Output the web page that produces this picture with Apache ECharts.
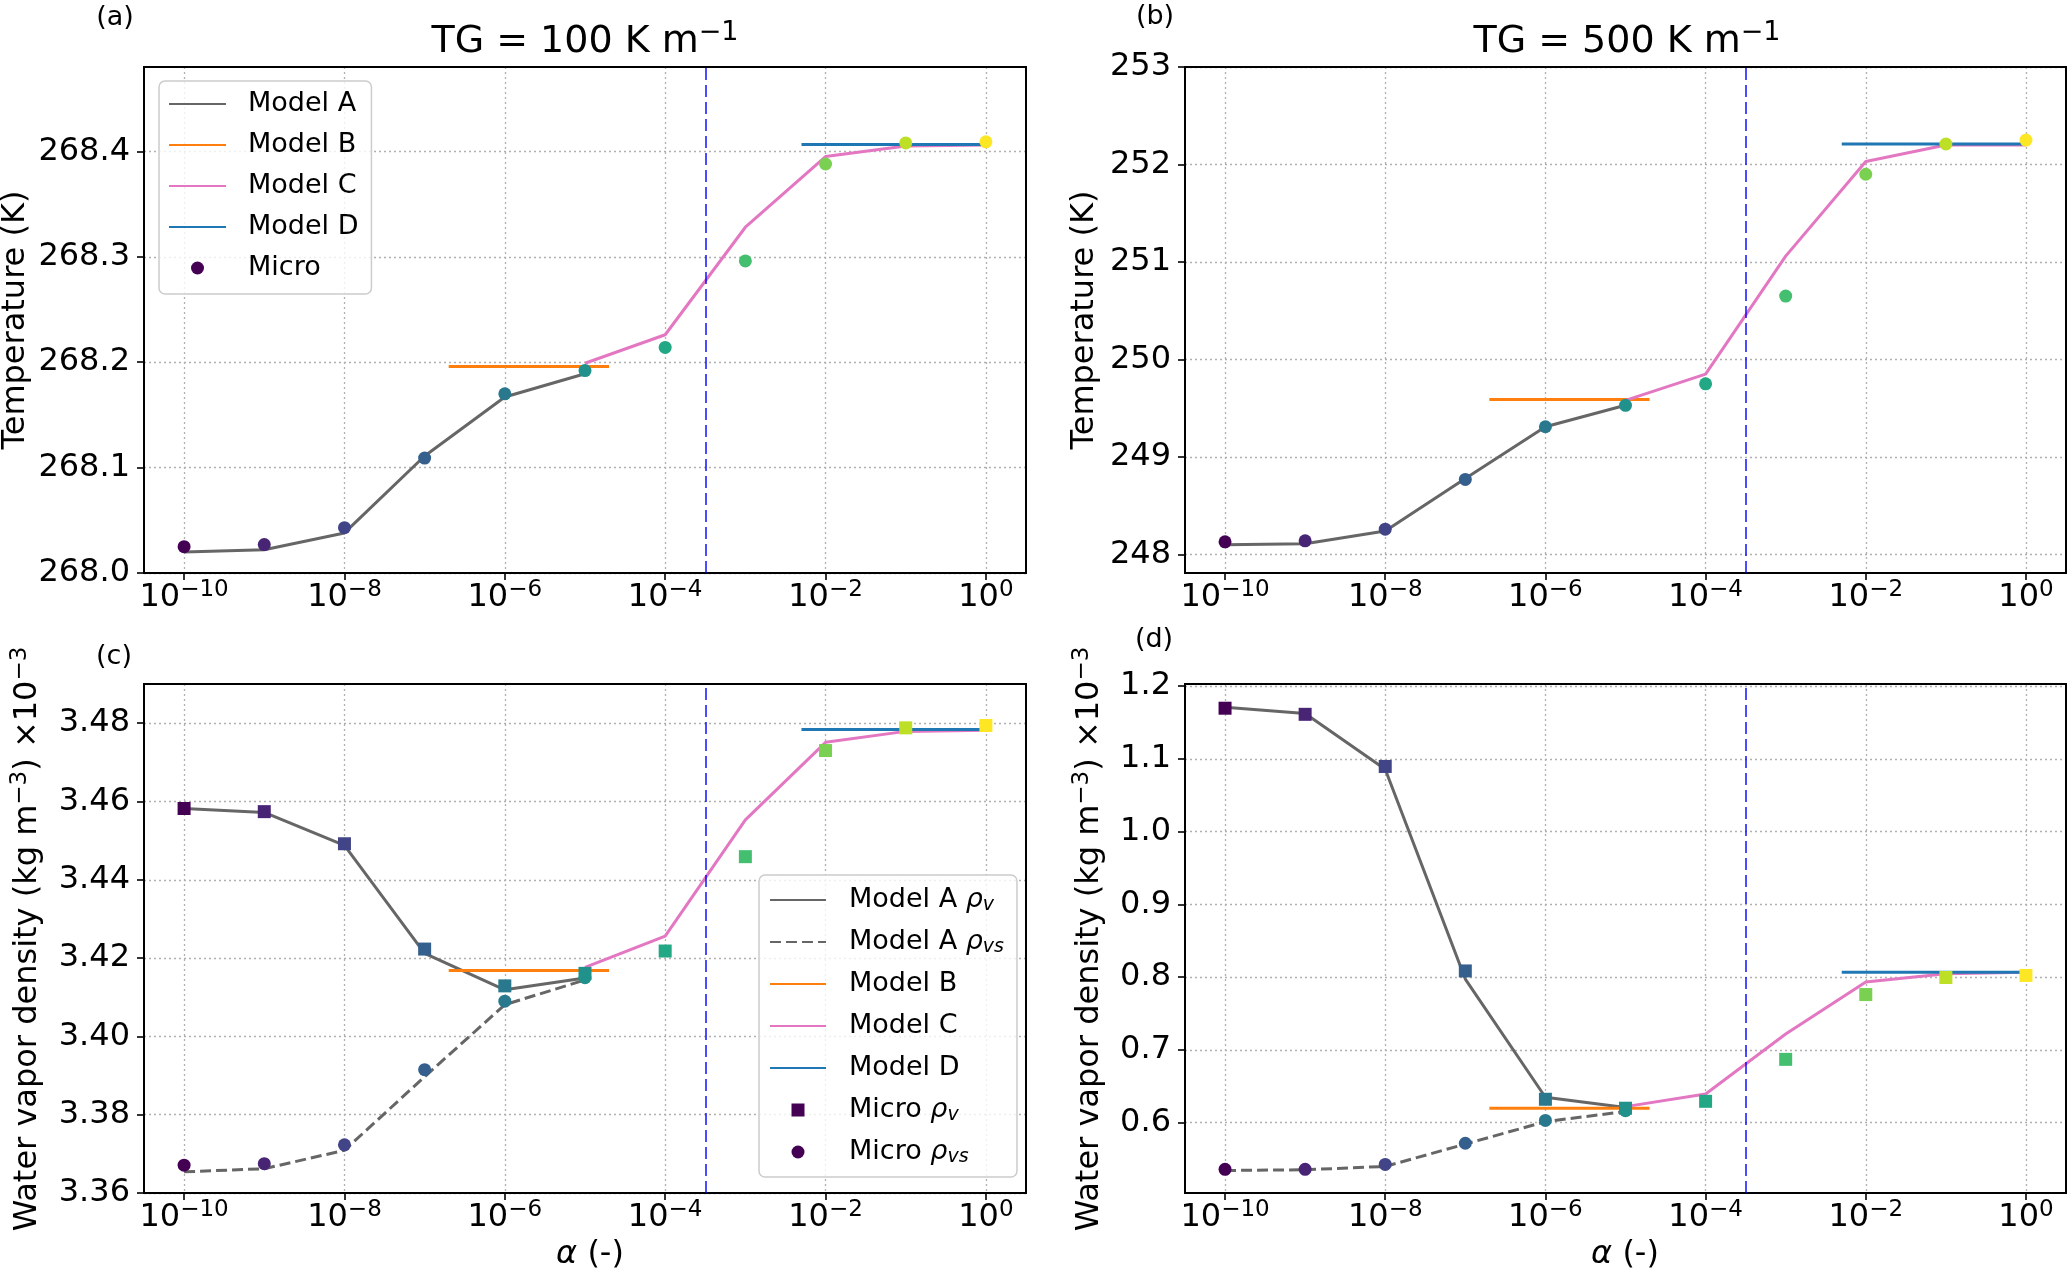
<!DOCTYPE html>
<html><head><meta charset="utf-8">
<script src="https://cdn.jsdelivr.net/npm/echarts@6/dist/echarts.min.js"></script>
<style>html,body{margin:0;padding:0;background:#fff}#c{width:2067px;height:1270px}</style>
</head><body><div id="c"></div>
<script>
// ---- data (x values are exponents of alpha: alpha = 10^x) ----
const alphaExp = [-10, -9, -8, -7, -6, -5, -4, -3, -2, -1, 0];
const expA = [-10, -9, -8, -7, -6, -5];
const expC = [-5, -4, -3, -2, -1, 0];
const rangeB = [-6.7, -4.7];
const rangeD = [-2.3, 0];
const alphaCrit = -3.5;
const xTickExp = [-10, -8, -6, -4, -2, 0];

// (a) TG = 100 K/m, temperature
const aMicro = [268.025, 268.027, 268.043, 268.109, 268.170, 268.192, 268.214, 268.296, 268.388, 268.408, 268.409];
const aModelA = [268.020, 268.022, 268.038, 268.111, 268.167, 268.189];
const aModelB = 268.196;
const aModelC = [268.199, 268.226, 268.328, 268.395, 268.405, 268.406];
const aModelD = 268.4065;
const aTicks = [268.0, 268.1, 268.2, 268.3, 268.4];

// (b) TG = 500 K/m, temperature
const bMicro = [248.13, 248.14, 248.26, 248.77, 249.31, 249.53, 249.75, 250.65, 251.90, 252.21, 252.25];
const bModelA = [248.10, 248.11, 248.24, 248.78, 249.31, 249.53];
const bModelB = 249.59;
const bModelC = [249.58, 249.85, 251.06, 252.03, 252.20, 252.20];
const bModelD = 252.21;
const bTicks = [248, 249, 250, 251, 252, 253];

// (c) TG = 100 K/m, water vapour density x1e-3
const cMicroV = [3.4582, 3.4574, 3.4492, 3.4223, 3.4129, 3.4161, 3.4218, 3.4459, 3.4730, 3.4788, 3.4794];
const cMicroVs = [3.3671, 3.3675, 3.3723, 3.3915, 3.4090, 3.4150];
const cModelAv = [3.4582, 3.4572, 3.4488, 3.4212, 3.4119, 3.4149];
const cModelAvs = [3.3654, 3.3662, 3.3709, 3.3897, 3.4081, 3.4144];
const cModelB = 3.4168;
const cModelC = [3.4176, 3.4256, 3.4553, 3.4751, 3.4779, 3.4782];
const cModelD = 3.4784;
const cTicks = [3.36, 3.38, 3.40, 3.42, 3.44, 3.46, 3.48];

// (d) TG = 500 K/m, water vapour density x1e-3
const dMicroV = [1.1697, 1.1613, 1.0896, 0.8084, 0.6319, 0.6196, 0.6291, 0.6868, 0.7759, 0.7994, 0.8022];
const dMicroVs = [0.5356, 0.5356, 0.5423, 0.5714, 0.6028, 0.6162];
const dModelAv = [1.1709, 1.1625, 1.0857, 0.7972, 0.6347, 0.6207];
const dModelAvs = [0.5339, 0.5350, 0.5395, 0.5703, 0.6011, 0.6151];
const dModelB = 0.6196;
const dModelC = [0.6218, 0.6392, 0.7216, 0.7933, 0.8045, 0.8067];
const dModelD = 0.8067;
const dTicks = [0.6, 0.7, 0.8, 0.9, 1.0, 1.1, 1.2];

// ---- styling ----
const FONT = 'DejaVu Sans';
const VIRIDIS = ['#440154','#482475','#414487','#355f8d','#2a788e','#21918c','#22a884','#44bf70','#7ad151','#bddf26','#fde725'];
const C_A = '#666666', C_B = '#ff7f0e', C_C = '#e377c2', C_D = '#1f77b4';
const GRIDLINE = {show: true, lineStyle: {color: '#b0b0b0', width: 1.3, type: [2, 3]}};
const TICK = {length: 7, lineStyle: {color: '#000', width: 1.6}};
const SQUARE = 'path://M0,0h10v10h-10z';

const grids = [
  {left: 144, top: 67, width: 882, height: 506},
  {left: 1185, top: 67, width: 881, height: 506},
  {left: 144, top: 684, width: 882, height: 509},
  {left: 1185, top: 684, width: 881, height: 509}
].map(g => Object.assign(g, {show: true, z: 1, borderColor: '#000', borderWidth: 2, backgroundColor: 'transparent', containLabel: false, outerBoundsMode: 'none'}));

function supStr(v) { return v < 0 ? '\u2212' + (-v) : String(v); }

function xAxisFor(i) {
  return {
    type: 'value', gridIndex: i, min: -10.5, max: 0.5,
    axisLine: {show: false, onZero: false},
    axisTick: Object.assign({show: true, customValues: xTickExp}, TICK),
    axisLabel: {
      customValues: xTickExp, margin: 6, color: '#000', fontFamily: FONT, fontSize: 32,
      formatter: v => '{b|10}{s|' + supStr(v) + '}',
      rich: {
        b: {fontSize: 32, lineHeight: 38, fontFamily: FONT, color: '#000'},
        s: {fontSize: 23, lineHeight: 23, verticalAlign: 'top', fontFamily: FONT, color: '#000'}
      }
    },
    splitLine: GRIDLINE
  };
}
function yAxisFor(i, min, max, ticks, dec) {
  return {
    type: 'value', gridIndex: i, min: min, max: max,
    axisLine: {show: false, onZero: false},
    axisTick: Object.assign({show: true, customValues: ticks}, TICK),
    axisLabel: {customValues: ticks, margin: 14, color: '#000', fontFamily: FONT, fontSize: 32,
      formatter: v => Number(v).toFixed(dec)},
    splitLine: GRIDLINE
  };
}

function line(name, gi, xs, ys, color, dashed, extra) {
  return Object.assign({
    type: 'line', name: name, xAxisIndex: gi, yAxisIndex: gi,
    data: xs.map((x, k) => [x, ys[k]]),
    symbol: 'none', showSymbol: false, silent: true, z: 2,
    lineStyle: {color: color, width: 3, type: dashed ? [11, 5] : 'solid'},
    itemStyle: {color: color},
    emphasis: {disabled: true}
  }, extra || {});
}
function flat(name, gi, range, y, color, extra) {
  return line(name, gi, range, [y, y], color, false, extra);
}
function micro(name, gi, ys, symbol) {
  return {
    type: 'scatter', name: name, xAxisIndex: gi, yAxisIndex: gi,
    symbol: symbol, symbolSize: 13, silent: true, z: 5,
    itemStyle: {color: VIRIDIS[0], opacity: 1},
    emphasis: {disabled: true},
    data: ys.map((y, k) => ({value: [alphaExp[k], y], itemStyle: {color: VIRIDIS[k], opacity: 1}}))
  };
}
function critLine() {
  return {markLine: {silent: true, symbol: ['none', 'none'], label: {show: false},
    lineStyle: {color: 'rgba(0,0,255,0.7)', width: 2, type: [12, 5]},
    emphasis: {disabled: true},
    data: [{xAxis: alphaCrit}]}};
}

const series = [
  // (a)
  line('Model A', 0, expA, aModelA, C_A, false),
  flat('Model B', 0, rangeB, aModelB, C_B),
  line('Model C', 0, expC, aModelC, C_C, false),
  flat('Model D', 0, rangeD, aModelD, C_D, critLine()),
  micro('Micro', 0, aMicro, 'circle'),
  // (b)
  line('Model A', 1, expA, bModelA, C_A, false),
  flat('Model B', 1, rangeB, bModelB, C_B),
  line('Model C', 1, expC, bModelC, C_C, false),
  flat('Model D', 1, rangeD, bModelD, C_D, critLine()),
  micro('Micro', 1, bMicro, 'circle'),
  // (c)
  line('Model A \u03c1v', 2, expA, cModelAv, C_A, false),
  line('Model A \u03c1vs', 2, expA, cModelAvs, C_A, true),
  flat('Model B', 2, rangeB, cModelB, C_B),
  line('Model C', 2, expC, cModelC, C_C, false),
  flat('Model D', 2, rangeD, cModelD, C_D, critLine()),
  micro('Micro \u03c1v', 2, cMicroV, 'rect'),
  micro('Micro \u03c1vs', 2, cMicroVs, 'circle'),
  // (d)
  line('Model A \u03c1v', 3, expA, dModelAv, C_A, false),
  line('Model A \u03c1vs', 3, expA, dModelAvs, C_A, true),
  flat('Model B', 3, rangeB, dModelB, C_B),
  line('Model C', 3, expC, dModelC, C_C, false),
  flat('Model D', 3, rangeD, dModelD, C_D, critLine()),
  micro('Micro \u03c1v', 3, dMicroV, 'rect'),
  micro('Micro \u03c1vs', 3, dMicroVs, 'circle')
];

const legendBase = {
  orient: 'vertical', selectedMode: false, itemHeight: 13,
  backgroundColor: 'rgba(255,255,255,0.8)', borderColor: '#cccccc', borderWidth: 1.5, borderRadius: 6,
  symbolKeepAspect: true
};
const legendRich = {
  t: {fontSize: 27, fontFamily: FONT, color: '#000', lineHeight: 30},
  i: {fontSize: 27, fontFamily: FONT, fontStyle: 'italic', color: '#000', lineHeight: 30},
  sub: {fontSize: 19, fontFamily: FONT, fontStyle: 'italic', color: '#000', lineHeight: 19, verticalAlign: 'bottom'}
};
const lineItem = n => ({name: n, itemStyle: {opacity: 0}});
const legends = [
  Object.assign({}, legendBase, {
    left: 159, top: 81, itemWidth: 57, itemGap: 11, padding: [8, 13, 11, 9],
    data: [lineItem('Model A'), lineItem('Model B'), lineItem('Model C'), lineItem('Model D'), {name: 'Micro', icon: 'circle'}],
    textStyle: {fontSize: 27, fontFamily: FONT, color: '#000', lineHeight: 30, padding: [0, 0, 0, 17]}
  }),
  Object.assign({}, legendBase, {
    left: 759, top: 875, itemWidth: 56, itemGap: 12, padding: [10, 13, 10, 10],
    data: [lineItem('Model A \u03c1v'), lineItem('Model A \u03c1vs'), lineItem('Model B'), lineItem('Model C'), lineItem('Model D'),
      {name: 'Micro \u03c1v', icon: SQUARE}, {name: 'Micro \u03c1vs', icon: 'circle'}],
    formatter: function (n) {
      const m = n.match(/^(.*) \u03c1(v|vs)$/);
      if (m) return '{t|' + m[1] + ' }{i|\u03c1}{sub|' + m[2] + '}';
      return '{t|' + n + '}';
    },
    textStyle: {fontSize: 27, fontFamily: FONT, color: '#000', lineHeight: 30, padding: [0, 0, 0, 18], rich: legendRich}
  })
];

function txt(x, y, text, size, extra) {
  const rich = {
    s: {fontSize: Math.round(size * 0.72), lineHeight: Math.round(size * 0.72), verticalAlign: 'top', fontFamily: FONT, fill: '#000'},
    i: {fontSize: size, fontFamily: FONT, fontStyle: 'italic', fill: '#000', lineHeight: Math.round(size * 1.2)}
  };
  return Object.assign({
    type: 'text', x: x, y: y, silent: true,
    style: {text: text, fontSize: size, fontFamily: FONT, fill: '#000', lineHeight: Math.round(size * 1.2),
      align: 'center', verticalAlign: 'middle', textAlign: 'center', textVerticalAlign: 'middle', rich: rich}
  }, extra || {});
}
const ROT = {rotation: Math.PI / 2};
const graphics = [
  txt(585, 42, 'TG = 100 K m{s|\u22121}', 38),
  txt(1627, 42, 'TG = 500 K m{s|\u22121}', 38),
  txt(115, 18, '(a)', 27),
  txt(1155, 17, '(b)', 27),
  txt(114, 657, '(c)', 27),
  txt(1154, 640, '(d)', 27),
  txt(16, 320, 'Temperature (K)', 32, ROT),
  txt(1085, 320, 'Temperature (K)', 32, ROT),
  txt(28, 939, 'Water vapor density (kg m{s|\u22123}) \u00d710{s|\u22123}', 32, ROT),
  txt(1090, 939, 'Water vapor density (kg m{s|\u22123}) \u00d710{s|\u22123}', 32, ROT),
  txt(590, 1255, '{i|\u03b1} (-)', 32),
  txt(1625, 1255, '{i|\u03b1} (-)', 32)
];

const chart = echarts.init(document.getElementById('c'), null, {renderer: 'canvas'});
chart.setOption({
  animation: false,
  backgroundColor: '#fff',
  textStyle: {fontFamily: FONT},
  grid: grids,
  xAxis: [0, 1, 2, 3].map(xAxisFor),
  yAxis: [
    yAxisFor(0, 268.0, 268.48, aTicks, 1),
    yAxisFor(1, 247.81, 253.0, bTicks, 0),
    yAxisFor(2, 3.36, 3.49, cTicks, 2),
    yAxisFor(3, 0.503, 1.203, dTicks, 1)
  ],
  legend: legends,
  series: series,
  graphic: graphics
});
</script>
</body></html>
